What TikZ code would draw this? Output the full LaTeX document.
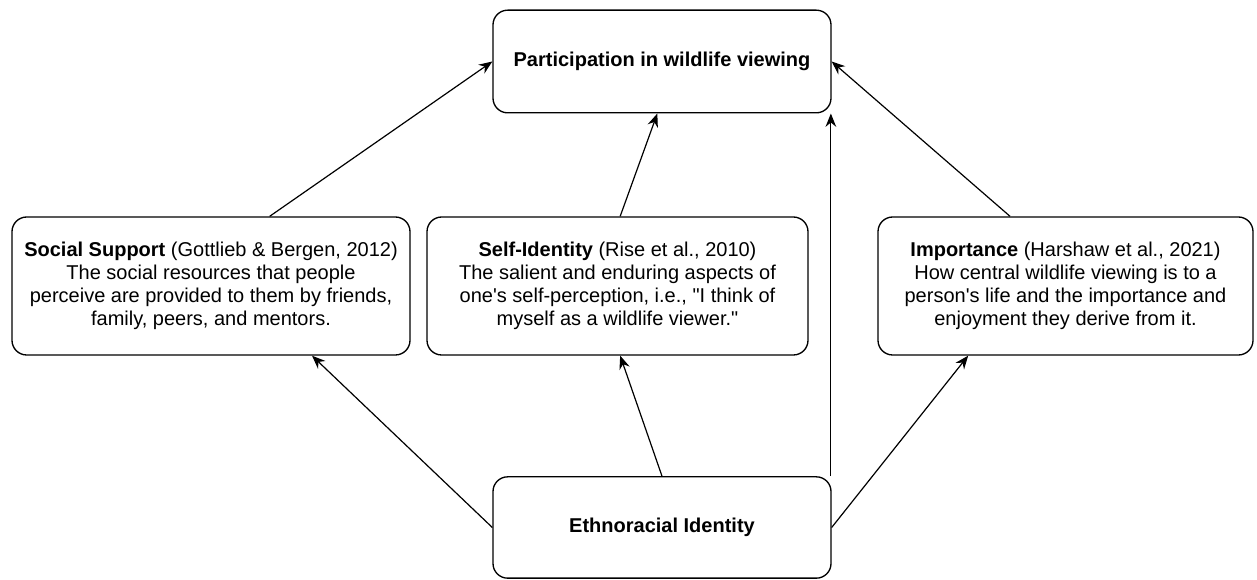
\documentclass[tikz,border=0pt]{standalone}
\usepackage{fontspec}
\setmainfont{Liberation Sans}
\usetikzlibrary{arrows.meta}

\begin{document}
\begin{tikzpicture}[x=0.75pt,y=-0.75pt]
    % Define styles
    \tikzset{
        box/.style={draw, line width=1pt, rounded corners=11pt, align=center, inner sep=1pt,
            font=\fontsize{15}{17.2}\selectfont},
        arr/.style={-{Stealth[length=10pt,width=8pt]}, line width=0.9pt}
    }

    % Frame
    \useasboundingbox (0,0) rectangle (1257,580);

    % Outcome
    \node[box, minimum width=253.5pt, minimum height=77pt] (part) at (662,61.5)
        {\textbf{Participation in wildlife viewing}};

    % Middle row
    \node[box, minimum width=298.5pt, minimum height=103.5pt] (support) at (211,286)
        {\textbf{Social Support} (Gottlieb \& Bergen, 2012)\\The social resources that people\\perceive are provided to them by friends,\\family, peers, and mentors.};
    \node[box, minimum width=285.75pt, minimum height=103.5pt] (selfid) at (617.5,286)
        {\textbf{Self-Identity} (Rise et al., 2010)\\The salient and enduring aspects of\\one\textquotesingle s self-perception, i.e., \textquotedbl I think of\\myself as a wildlife viewer.\textquotedbl};
    \node[box, minimum width=281.25pt, minimum height=103.5pt] (importance) at (1065.5,286)
        {\textbf{Importance} (Harshaw et al., 2021)\\How central wildlife viewing is to a\\person\textquotesingle s life and the importance and\\enjoyment they derive from it.};

    % Predictor
    \node[box, minimum width=253.5pt, minimum height=76pt] (ethno) at (662,527.5)
        {\textbf{Ethnoracial Identity}};

    % Arrows to outcome
    \draw[arr] ([xshift=44pt]support.north) -- (part.west);
    \draw[arr] ([xshift=2pt]selfid.north) -- ([xshift=-3.5pt]part.south);
    \draw[arr] ([xshift=-41.6pt]importance.north) -- (part.east);
    \draw[arr] ([xshift=-0.6pt]ethno.north east) -- ([xshift=-0.6pt]part.south east);

    % Arrows from predictor
    \draw[arr] (ethno.west) -- ([xshift=75.75pt]support.south);
    \draw[arr] (ethno.north) -- ([xshift=2pt]selfid.south);
    \draw[arr] (ethno.east) -- ([xshift=-73pt]importance.south);
\end{tikzpicture}
\end{document}
